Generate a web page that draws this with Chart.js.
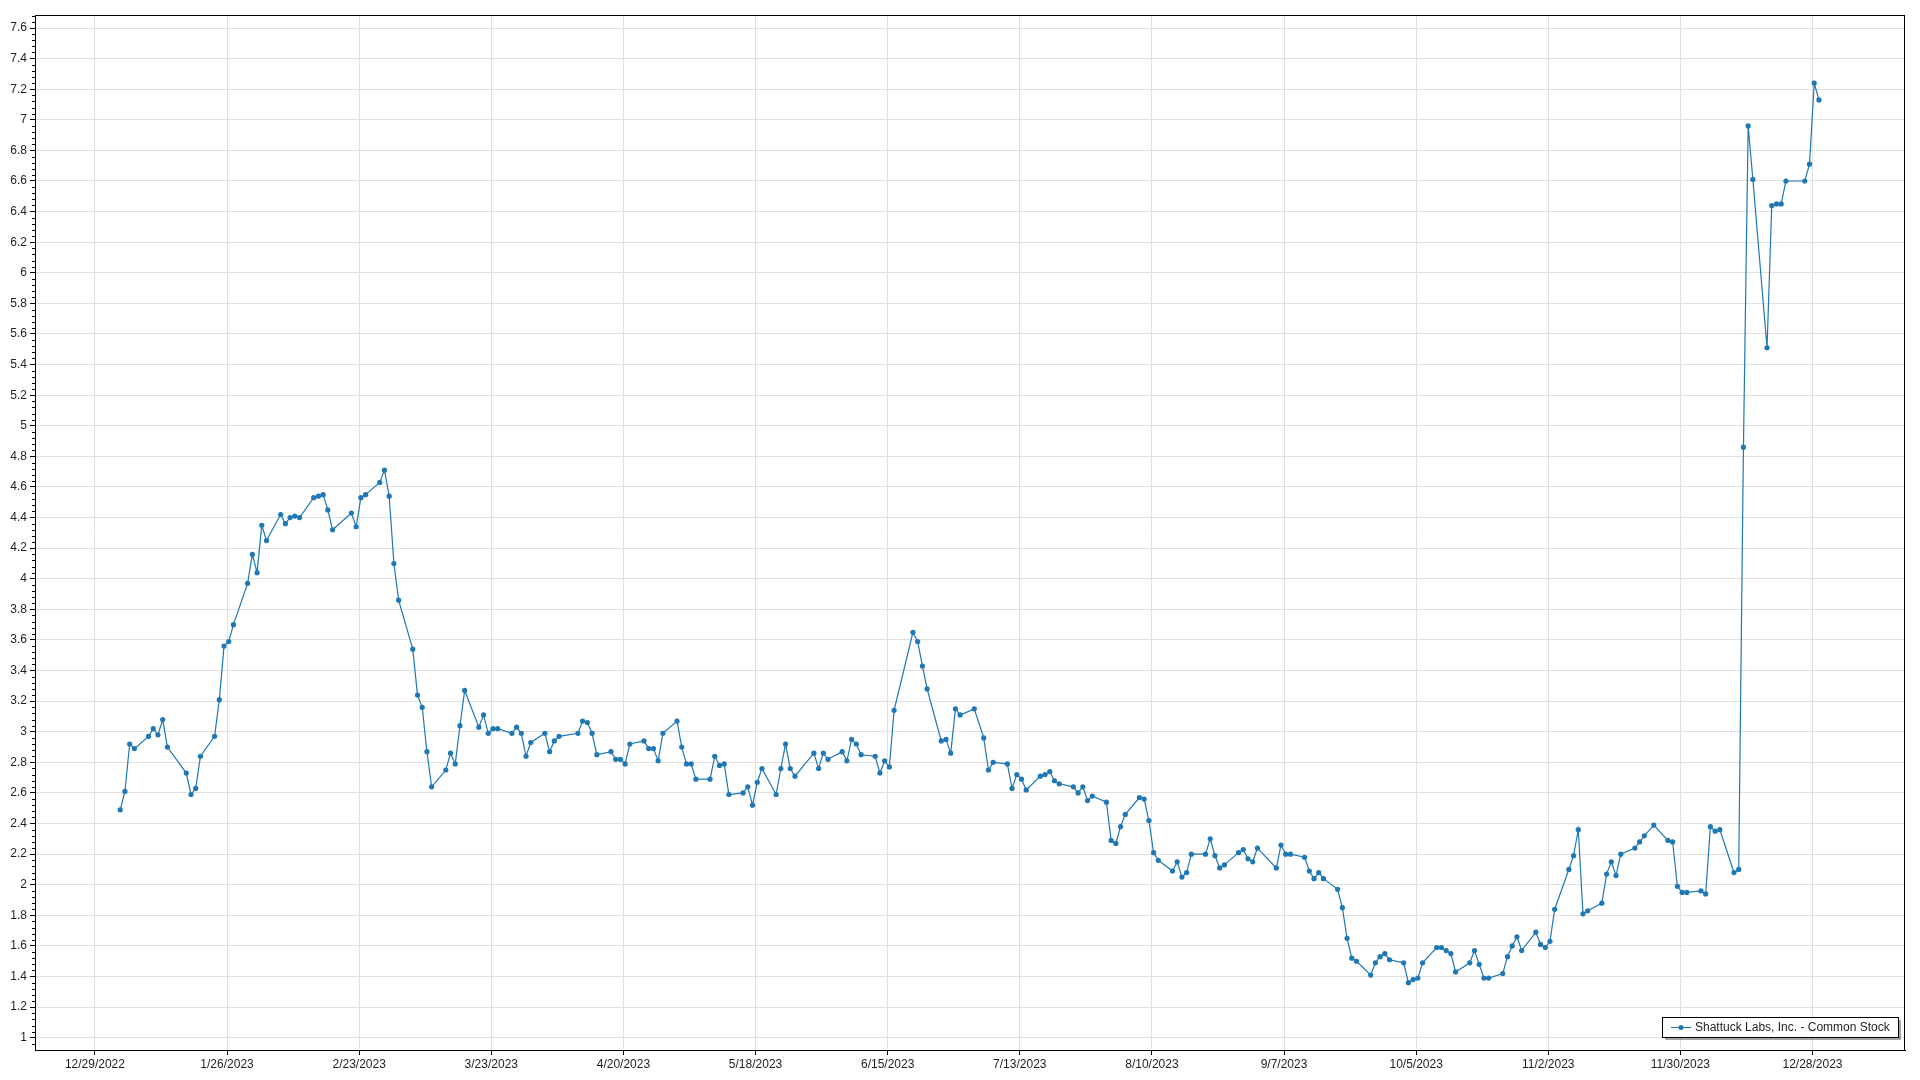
<!DOCTYPE html>
<html>
<head>
<meta charset="utf-8">
<title>Shattuck Labs, Inc. - Common Stock</title>
<script src="https://cdn.jsdelivr.net/npm/chart.js"></script>
<style>
  html, body { margin: 0; padding: 0; background: #fff; }
  canvas { display: block; }
</style>
</head>
<body>
<canvas id="priceChart" width="1920" height="1080"></canvas>
<script>
// series name and year of the quotes
const seriesName = 'Shattuck Labs, Inc. - Common Stock';
const quoteYear = 2023;
// quotes are stamped a bit after midnight (fraction of a day)
const quoteTimeOfDay = 0.36;

// trading days (month/day) of 2023
const tradeDates = [
  '1/3','1/4','1/5','1/6','1/9','1/10','1/11','1/12','1/13','1/17','1/18','1/19','1/20','1/23','1/24','1/25','1/26','1/27','1/30','1/31',
  '2/1','2/2','2/3','2/6','2/7','2/8','2/9','2/10','2/13','2/14','2/15','2/16','2/17','2/21','2/22','2/23','2/24','2/27','2/28',
  '3/1','3/2','3/3','3/6','3/7','3/8','3/9','3/10','3/13','3/14','3/15','3/16','3/17','3/20','3/21','3/22','3/23','3/24','3/27','3/28','3/29','3/30','3/31',
  '4/3','4/4','4/5','4/6','4/10','4/11','4/12','4/13','4/14','4/17','4/18','4/19','4/20','4/21','4/24','4/25','4/26','4/27','4/28',
  '5/1','5/2','5/3','5/4','5/5','5/8','5/9','5/10','5/11','5/12','5/15','5/16','5/17','5/18','5/19','5/22','5/23','5/24','5/25','5/26','5/30','5/31',
  '6/1','6/2','6/5','6/6','6/7','6/8','6/9','6/12','6/13','6/14','6/15','6/16','6/20','6/21','6/22','6/23','6/26','6/27','6/28','6/29','6/30',
  '7/3','7/5','7/6','7/7','7/10','7/11','7/12','7/13','7/14','7/17','7/18','7/19','7/20','7/21','7/24','7/25','7/26','7/27','7/28','7/31',
  '8/1','8/2','8/3','8/4','8/7','8/8','8/9','8/10','8/11','8/14','8/15','8/16','8/17','8/18','8/21','8/22','8/23','8/24','8/25','8/28','8/29','8/30','8/31',
  '9/1','9/5','9/6','9/7','9/8','9/11','9/12','9/13','9/14','9/15','9/18','9/19','9/20','9/21','9/22','9/25','9/26','9/27','9/28','9/29',
  '10/2','10/3','10/4','10/5','10/6','10/9','10/10','10/11','10/12','10/13','10/16','10/17','10/18','10/19','10/20','10/23','10/24','10/25','10/26','10/27','10/30','10/31',
  '11/1','11/2','11/3','11/6','11/7','11/8','11/9','11/10','11/13','11/14','11/15','11/16','11/17','11/20','11/21','11/22','11/24','11/27','11/28','11/29','11/30',
  '12/1','12/4','12/5','12/6','12/7','12/8','12/11','12/12','12/13','12/14','12/15','12/18','12/19','12/20','12/21','12/22','12/26','12/27','12/28','12/29'
];

// closing prices, same order as tradeDates
const closePrices = [
  2.49,2.61,2.92,2.89,2.97,3.02,2.98,3.08,2.90,2.73,2.59,2.63,2.84,2.97,3.21,3.56,3.59,3.70,3.97,4.16,
  4.04,4.35,4.25,4.42,4.36,4.40,4.41,4.40,4.53,4.54,4.55,4.45,4.32,4.43,4.34,4.53,4.55,4.63,4.71,
  4.54,4.10,3.86,3.54,3.24,3.16,2.87,2.64,2.75,2.86,2.79,3.04,3.27,3.03,3.11,2.99,3.02,3.02,2.99,3.03,2.99,2.84,2.93,
  2.99,2.87,2.94,2.97,2.99,3.07,3.06,2.99,2.85,2.87,2.82,2.82,2.79,2.92,2.94,2.89,2.89,2.81,2.99,
  3.07,2.90,2.79,2.79,2.69,2.69,2.84,2.78,2.79,2.59,2.60,2.64,2.52,2.67,2.76,2.59,2.76,2.92,2.76,2.71,2.86,2.76,
  2.86,2.82,2.87,2.81,2.95,2.92,2.85,2.84,2.73,2.81,2.77,3.14,3.65,3.59,3.43,3.28,2.94,2.95,2.86,3.15,3.11,
  3.15,2.96,2.75,2.80,2.79,2.63,2.72,2.69,2.62,2.71,2.72,2.74,2.68,2.66,2.64,2.60,2.64,2.55,2.58,2.54,
  2.29,2.27,2.38,2.46,2.57,2.56,2.42,2.21,2.16,2.09,2.15,2.05,2.08,2.20,2.20,2.30,2.19,2.11,2.13,2.21,2.23,2.17,2.15,
  2.24,2.11,2.26,2.20,2.20,2.18,2.09,2.04,2.08,2.04,1.97,1.85,1.65,1.52,1.50,1.41,1.49,1.53,1.55,1.51,
  1.49,1.36,1.38,1.39,1.49,1.59,1.59,1.57,1.55,1.43,1.49,1.57,1.48,1.39,1.39,1.42,1.53,1.60,1.66,1.57,1.69,1.61,
  1.59,1.63,1.84,2.10,2.19,2.36,1.81,1.83,1.88,2.07,2.15,2.06,2.20,2.24,2.28,2.32,2.39,2.29,2.28,1.99,1.95,
  1.95,1.96,1.94,2.38,2.35,2.36,2.08,2.10,4.86,6.96,6.61,5.51,6.44,6.45,6.45,6.60,6.60,6.71,7.24,7.13
];

// axis labels
const xTickLabels = ['12/29/2022','1/26/2023','2/23/2023','3/23/2023','4/20/2023','5/18/2023','6/15/2023',
  '7/13/2023','8/10/2023','9/7/2023','10/5/2023','11/2/2023','11/30/2023','12/28/2023'];
const yTickValues = [1, 1.2, 1.4, 1.6, 1.8, 2, 2.2, 2.4, 2.6, 2.8, 3, 3.2, 3.4, 3.6, 3.8, 4, 4.2, 4.4,
  4.6, 4.8, 5, 5.2, 5.4, 5.6, 5.8, 6, 6.2, 6.4, 6.6, 6.8, 7, 7.2, 7.4, 7.6];

// days counted from the first x label
const DAY = 86400000;
const origin = Date.UTC(2022, 11, 29);
function dayIndex(y, m, d) { return (Date.UTC(y, m - 1, d) - origin) / DAY; }

const xTickPos = xTickLabels.map(s => {
  const [m, d, y] = s.split('/').map(Number);
  return dayIndex(y, m, d);
});
const points = tradeDates.map((s, i) => {
  const [m, d] = s.split('/').map(Number);
  return { x: dayIndex(quoteYear, m, d) + quoteTimeOfDay, y: closePrices[i] };
});

const FONT = { family: "'Liberation Sans', Arial, sans-serif", size: 12 };
const TEXT = '#1e1e1e';
const LINE = '#1f77b4';

// frame, minor ticks and boxed legend
const framePlugin = {
  id: 'frame',
  afterDraw(chart) {
    const { ctx, chartArea: a, scales } = chart;
    ctx.save();
    ctx.strokeStyle = '#000';
    ctx.lineWidth = 1;
    ctx.strokeRect(Math.round(a.left) + 0.5, Math.round(a.top) + 0.5,
      Math.round(a.right - a.left) - 1, Math.round(a.bottom - a.top));

    // minor ticks on the value axis, every 0.04
    ctx.beginPath();
    for (let k = 23; k <= 192; k++) {
      if (k % 5 === 0) continue;
      const py = Math.round(scales.y.getPixelForValue(k / 25)) + 0.5;
      if (py < a.top || py > a.bottom) continue;
      ctx.moveTo(a.left - 3, py);
      ctx.lineTo(a.left, py);
    }
    ctx.stroke();

    // legend
    ctx.font = FONT.size + 'px ' + FONT.family;
    const tw = ctx.measureText(seriesName).width;
    const bw = Math.round(tw + 41), bh = 20;
    const bx = Math.round(a.right - 7 - bw), by = Math.round(a.bottom - 13 - bh);
    ctx.fillStyle = 'rgba(0,0,0,0.35)';
    ctx.fillRect(bx + 3, by + 3, bw, bh);
    ctx.fillStyle = '#fff';
    ctx.fillRect(bx, by, bw, bh);
    ctx.strokeStyle = '#000';
    ctx.strokeRect(bx + 0.5, by + 0.5, bw, bh);
    const cy = by + bh / 2 + 0.5;
    ctx.strokeStyle = LINE;
    ctx.beginPath();
    ctx.moveTo(bx + 9, cy);
    ctx.lineTo(bx + 29, cy);
    ctx.stroke();
    ctx.fillStyle = LINE;
    ctx.beginPath();
    ctx.arc(bx + 19, cy, 2.5, 0, Math.PI * 2);
    ctx.fill();
    ctx.fillStyle = TEXT;
    ctx.textBaseline = 'middle';
    ctx.fillText(seriesName, bx + 33, cy);
    ctx.restore();
  }
};

new Chart(document.getElementById('priceChart').getContext('2d'), {
  type: 'line',
  data: {
    datasets: [{
      label: seriesName,
      data: points,
      borderColor: LINE,
      backgroundColor: LINE,
      borderWidth: 1.2,
      pointRadius: 2.6,
      pointBorderWidth: 0,
      pointBackgroundColor: LINE,
      tension: 0,
      fill: false
    }]
  },
  options: {
    responsive: false,
    animation: false,
    devicePixelRatio: 1,
    layout: { padding: { top: 15, right: 15, left: 0, bottom: 0 } },
    plugins: {
      legend: { display: false },
      tooltip: { enabled: false }
    },
    scales: {
      x: {
        type: 'linear',
        min: -12.7,
        max: 383.6,
        afterBuildTicks: s => { s.ticks = xTickPos.map(v => ({ value: v })); },
        afterFit: s => { s.height = 30; },
        ticks: {
          autoSkip: false,
          maxRotation: 0,
          padding: 2,
          font: FONT,
          color: TEXT,
          callback: v => xTickLabels[xTickPos.indexOf(v)]
        },
        grid: { color: '#e0e0e0', tickColor: '#000', tickLength: 5 },
        border: { color: '#000' }
      },
      y: {
        type: 'linear',
        min: 0.92,
        max: 7.685,
        afterBuildTicks: s => { s.ticks = yTickValues.map(v => ({ value: v })); },
        afterFit: s => { s.width = 35; },
        ticks: {
          padding: 3,
          font: FONT,
          color: TEXT,
          callback: v => String(v)
        },
        grid: { color: '#e0e0e0', tickColor: '#000', tickLength: 5 },
        border: { color: '#000' }
      }
    }
  },
  plugins: [framePlugin]
});
</script>
</body>
</html>
